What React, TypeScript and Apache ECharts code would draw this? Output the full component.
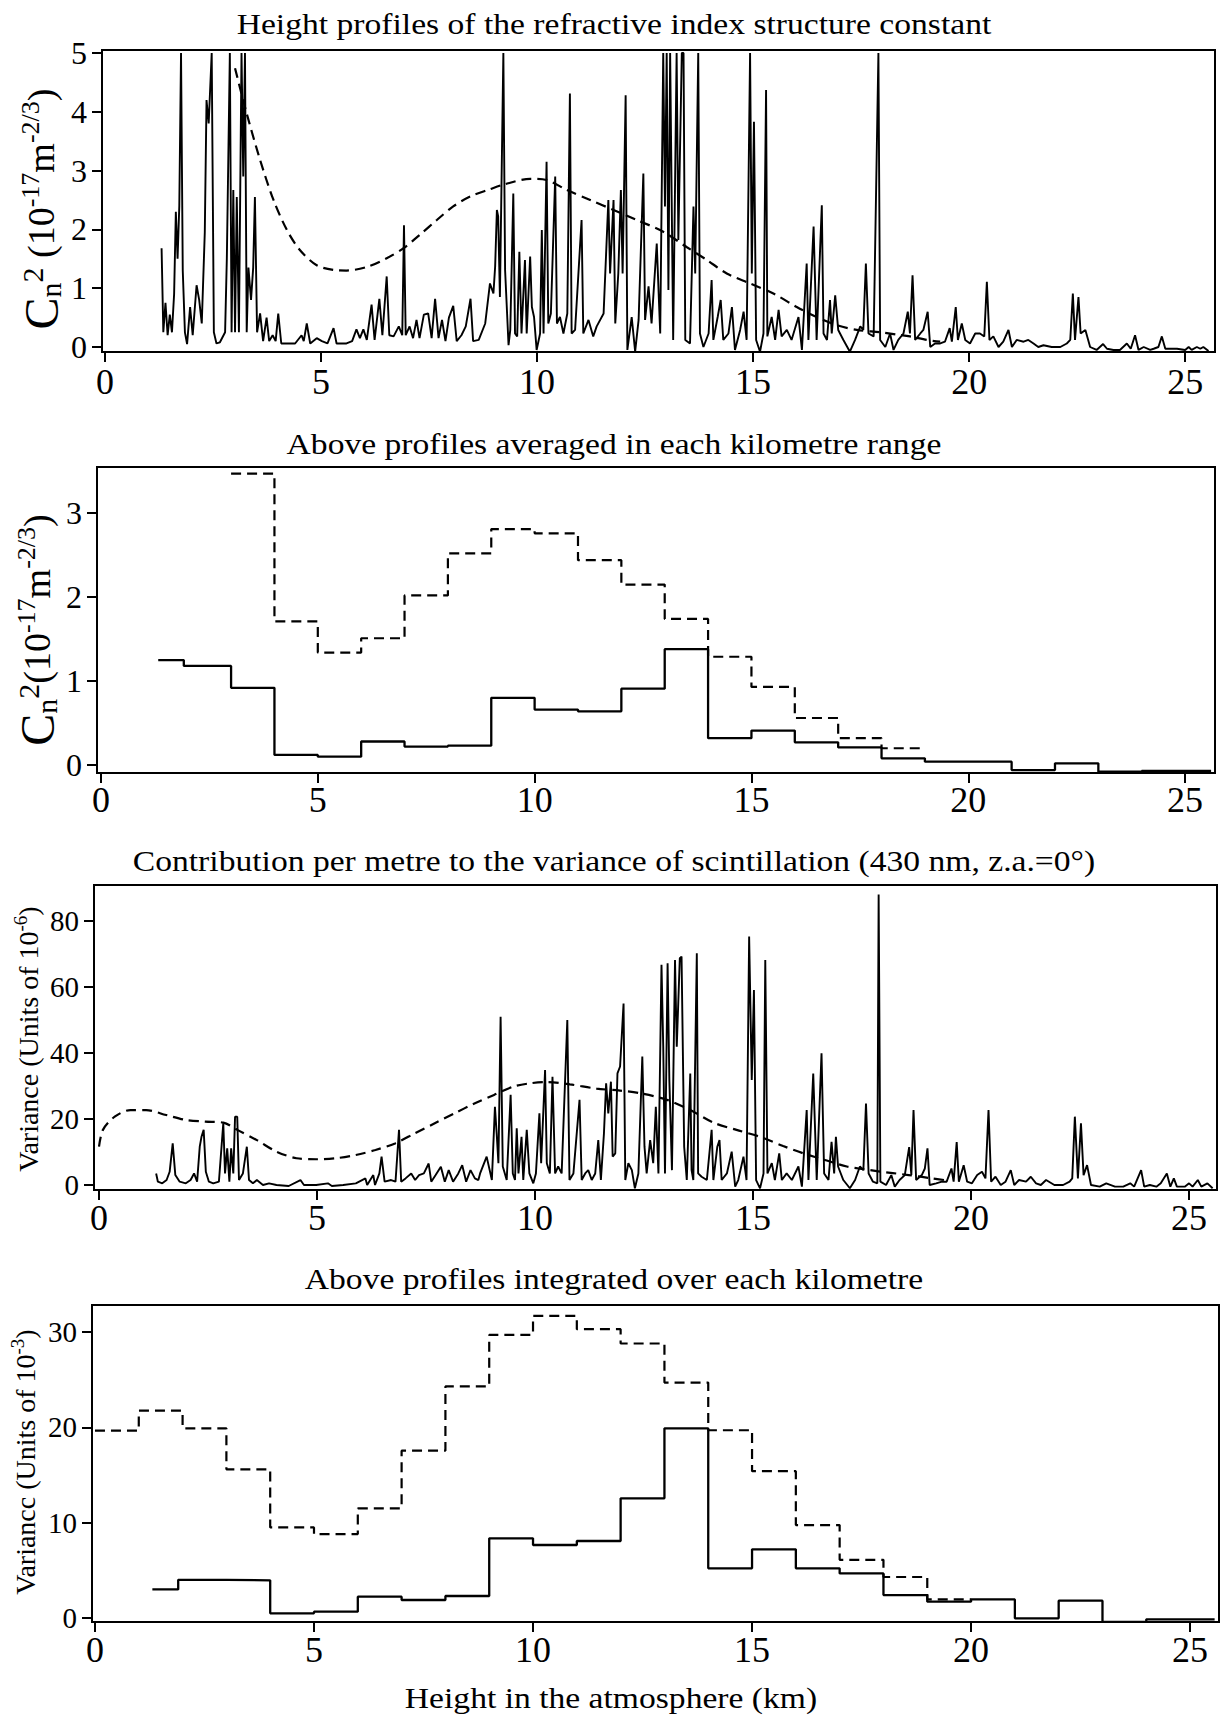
import React, { useEffect, useRef } from 'react';
import * as echarts from 'echarts';

const SERIF = 'Liberation Serif';

// ---------- tick values ----------
const xTicks = [0, 5, 10, 15, 20, 25];
const cn2Ticks = [0, 1, 2, 3, 4, 5];
const cn2AvgTicks = [0, 1, 2, 3];
const varMetreTicks = [0, 20, 40, 60, 80];
const varKmTicks = [0, 10, 20, 30];

// ---------- texts ----------
const titleTexts = [
  'Height profiles of the refractive index structure constant',
  'Above profiles averaged in each kilometre range',
  'Contribution per metre to the variance of scintillation (430 nm, z.a.=0\u00b0)',
  'Above profiles integrated over each kilometre',
];
const xAxisTitle = 'Height in the atmosphere (km)';

// ---------- panel 1: measured Cn2 profile (km, 1e-17 m^-2/3) ----------
const cn2Profile: [number, number][] = [
  [1.31,1.68],[1.35,0.25],[1.40,0.75],[1.45,0.2],[1.50,0.55],[1.55,0.25],[1.60,0.9],[1.64,2.3],[1.68,1.5],[1.72,2.4],[1.76,5],[1.80,1.3],[1.85,0.25],[1.90,0.05],[1.97,0.68],[2.03,0.2],[2.12,1.05],[2.18,0.8],[2.24,0.4],[2.31,1.95],[2.35,4.2],[2.40,3.8],[2.47,5],[2.52,0.25],[2.58,0.06],[2.66,0.08],[2.78,0.25],[2.82,1.5],[2.89,5],[2.93,0.25],[2.97,2.67],[3.01,0.25],[3.05,2.55],[3.10,0.25],[3.16,5],[3.20,2.9],[3.24,5],[3.28,0.25],[3.32,1.35],[3.38,0.8],[3.43,1.35],[3.47,2.55],[3.52,0.25],[3.59,0.57],[3.66,0.1],[3.74,0.5],[3.80,0.1],[3.88,0.2],[3.95,0.1],[4.01,0.57],[4.08,0.06],[4.20,0.06],[4.40,0.06],[4.55,0.2],[4.60,0.1],[4.67,0.4],[4.75,0.06],[4.90,0.15],[5.02,0.1],[5.15,0.06],[5.29,0.32],[5.36,0.06],[5.59,0.06],[5.72,0.1],[5.82,0.3],[5.90,0.15],[5.98,0.3],[6.06,0.12],[6.17,0.72],[6.24,0.12],[6.35,0.82],[6.42,0.2],[6.52,1.2],[6.58,0.2],[6.68,0.18],[6.80,0.35],[6.88,0.2],[6.92,2.07],[6.96,0.2],[7.05,0.35],[7.13,0.15],[7.21,0.46],[7.28,0.15],[7.38,0.55],[7.48,0.57],[7.56,0.15],[7.64,0.82],[7.72,0.15],[7.80,0.46],[7.88,0.1],[7.96,0.5],[8.06,0.7],[8.14,0.1],[8.25,0.2],[8.35,0.35],[8.46,0.82],[8.52,0.1],[8.65,0.12],
  [8.80,0.40],[8.91,1.08],[8.99,0.91],[9.03,1.37],[9.07,2.33],[9.10,2.22],[9.14,0.85],[9.22,5],[9.26,1.31],[9.34,0.03],[9.38,0.29],[9.45,2.61],[9.49,0.23],[9.54,0.18],[9.59,1.62],[9.64,0.23],[9.72,1.48],[9.76,0.23],[9.84,1.54],[9.88,0.68],[9.93,0.51],[9.99,-0.05],[10.07,0.23],[10.11,1.99],[10.15,0.23],[10.22,3.15],[10.26,0.40],[10.32,0.57],[10.42,2.90],[10.46,0.40],[10.53,0.51],[10.61,0.23],[10.70,0.57],[10.76,4.31],[10.80,0.23],[10.88,0.29],[11.03,2.16],[11.07,0.23],[11.19,0.46],[11.30,0.18],[11.38,0.35],[11.54,0.57],[11.65,2.50],[11.69,1.25],[11.77,2.50],[11.81,0.40],[11.88,1.25],[11.94,2.67],[11.98,1.25],[12.05,4.28],[12.09,-0.05],[12.19,0.51],[12.27,-0.08],[12.35,0.46],[12.46,2.95],[12.50,0.46],[12.58,1.03],[12.65,0.40],[12.77,1.76],[12.85,0.23],[12.92,5],[12.96,2.39],[13.00,5],[13.04,0.97],[13.08,5],[13.15,0.12],[13.23,5],[13.27,1.82],[13.35,5],[13.39,5],[13.43,0.12],[13.54,0.06],[13.62,2.39],[13.66,1.25],[13.73,5],[13.77,0.23],[13.85,0.0],[13.97,0.23],[14.04,1.14],[14.08,0.12],[14.18,0.51],[14.25,0.80],[14.31,0.12],[14.43,0.23],[14.51,0.68],[14.58,-0.05],[14.70,0.29],[14.78,0.60],[14.85,0.12],[14.93,5],[14.97,1.25],[15.02,3.83],[15.07,0.12],[15.16,-0.08],[15.24,0.23],[15.30,4.37],[15.33,0.18],[15.43,0.51],[15.51,0.12],[15.59,0.63],[15.66,0.18],[15.78,0.29],[15.89,0.12],[16.05,0.51],[16.13,-0.05],[16.24,1.42],[16.28,0.12],[16.40,2.05],[16.47,0.12],[16.59,2.41],[16.63,0.23],[16.71,0.12],[16.78,0.80],[16.82,0.23],[16.90,0.88],[16.97,0.29],[17.09,0.12],[17.24,-0.08],[17.36,0.12],[17.48,0.35],[17.55,0.29],[17.61,1.42],[17.67,0.23],
  [17.79,0.18],[17.90,5],[17.94,0.12],[18.06,0.0],[18.17,0.23],[18.25,-0.05],[18.36,0.12],[18.48,0.23],[18.58,0.6],[18.63,0.23],[18.69,1.22],[18.75,0.12],[18.87,0.23],[18.94,0.29],[19.04,0.6],[19.10,0.0],[19.21,0.06],[19.33,0.06],[19.44,0.09],[19.55,0.32],[19.60,0.09],[19.69,0.68],[19.74,0.12],[19.83,0.40],[19.91,0.12],[20.02,0.06],[20.14,0.23],[20.25,0.23],[20.35,0.18],[20.41,1.11],[20.47,0.12],[20.56,0.18],[20.68,0.0],[20.79,0.09],[20.91,0.29],[20.99,0.0],[21.10,0.12],[21.26,0.09],[21.37,0.12],[21.49,0.06],[21.60,0.0],[21.72,0.03],[21.91,0.0],[22.11,0.0],[22.26,0.06],[22.34,0.12],[22.40,0.91],[22.45,0.12],[22.53,0.85],[22.58,0.23],[22.69,0.29],[22.80,0.0],[22.95,-0.05],[23.10,0.05],[23.19,-0.03],[23.34,-0.05],[23.49,-0.05],[23.65,0.06],[23.74,-0.03],[23.84,0.2],[23.92,-0.05],[24.04,0.0],[24.19,-0.05],[24.27,-0.03],[24.38,0.0],[24.46,0.18],[24.54,-0.03],[24.65,-0.03],[24.81,-0.03],[25.00,-0.05],[25.08,0.0],[25.15,-0.05],[25.27,0.0],[25.35,-0.03],[25.42,0.0],[25.54,-0.07],
];

// panel 1: model Cn2 curve
const cn2Model: [number, number][] = [
  [3.01,4.74],[3.28,3.97],[3.59,3.18],[3.90,2.5],[4.21,1.99],[4.51,1.65],[4.90,1.39],[5.29,1.31],[5.59,1.30],[6.06,1.36],[6.52,1.51],[6.91,1.68],[7.29,1.91],[7.68,2.16],[8.06,2.39],[8.45,2.56],[8.90,2.68],[9.22,2.76],[9.84,2.86],[10.22,2.84],[10.69,2.67],[11.23,2.50],[11.77,2.33],[12.31,2.16],[12.92,1.96],[13.46,1.70],[13.93,1.48],[14.39,1.25],[14.93,1.08],[15.47,0.91],[16.01,0.68],[16.47,0.51],[16.94,0.37],[17.40,0.29],[17.94,0.25],[18.33,0.21],[18.63,0.18],[19.02,0.12],[19.33,0.09],
];

// ---------- panel 2: kilometre averages ----------
const avgEdgesMeasured = [1.32, 1.91, 3, 4, 5, 6, 7, 8, 9, 10, 11, 12, 13, 14, 15, 16, 17, 18, 19, 20, 21, 22, 23, 24, 25.6];
const avgMeasured = [1.25, 1.18, 0.92, 0.12, 0.10, 0.28, 0.22, 0.23, 0.80, 0.66, 0.64, 0.91, 1.38, 0.32, 0.41, 0.27, 0.21, 0.08, 0.04, 0.04, -0.06, 0.02, -0.08, -0.07];
const avgEdgesModel = [3, 4, 5, 6, 7, 8, 9, 10, 11, 12, 13, 14, 15, 16, 17, 18, 19];
const avgModel = [3.47, 1.71, 1.34, 1.51, 2.02, 2.52, 2.81, 2.76, 2.44, 2.15, 1.74, 1.29, 0.93, 0.56, 0.32, 0.20];

// ---------- panel 3: variance contribution per metre (1e-6) ----------
const scintProfile: [number, number][] = [
  [1.31,3.5],[1.35,1.0],[1.45,0.5],[1.55,1.5],[1.62,4.0],[1.69,12.6],[1.75,3.0],[1.85,1.0],[1.99,0.5],[2.1,1.5],[2.18,3.5],[2.25,1.0],[2.31,11.6],[2.35,14.6],[2.40,16.7],[2.45,4],[2.52,1.0],[2.62,0.5],[2.75,1.0],[2.85,18.7],[2.89,3.5],[2.94,11.1],[2.99,1.0],[3.03,11.1],[3.08,3.5],[3.12,20.7],[3.17,20.7],[3.21,1.5],[3.30,3.5],[3.39,11.6],[3.44,1.5],[3.53,0.5],[3.62,1.5],[3.76,0.0],[3.90,0.5],[4.07,0.0],[4.35,-0.3],[4.62,1.5],[4.70,0.0],[4.98,0.0],[5.25,0.5],[5.34,-0.3],[5.60,0.0],[5.89,0.5],[6.11,2.0],[6.15,0.0],[6.29,3.0],[6.33,0.0],[6.43,3.5],[6.48,8.6],[6.55,1.0],[6.70,1.5],[6.80,1.0],[6.88,16.7],[6.93,1.0],[7.03,2.0],[7.16,3.5],[7.25,1.5],[7.34,3.0],[7.45,3.5],[7.56,6.5],[7.62,1.0],[7.72,3.0],[7.84,5.5],[7.93,1.0],[8.02,4.5],[8.12,1.0],[8.24,3.5],[8.33,6.0],[8.42,1.0],[8.52,4.5],[8.62,2.0],[8.70,1.5],
  [8.74,3.5],[8.89,8.6],[9.01,1.5],[9.08,23.7],[9.12,15.6],[9.16,6.6],[9.21,51],[9.26,5.6],[9.35,1.5],[9.44,27.3],[9.49,3.5],[9.54,1.5],[9.58,17.2],[9.62,3.5],[9.69,14.6],[9.73,1.5],[9.81,16.7],[9.87,3.5],[9.96,0.5],[10.02,3.5],[10.10,21.7],[10.14,6.6],[10.23,34.8],[10.27,6.6],[10.34,3.5],[10.40,32.8],[10.46,3.5],[10.53,5.6],[10.61,3.5],[10.74,50],[10.79,1.5],[10.88,3.5],[11.02,25.8],[11.07,1.5],[11.15,3.5],[11.22,4.5],[11.30,1.5],[11.38,3.5],[11.45,13.6],[11.51,1.5],[11.58,15.6],[11.63,30.8],[11.68,21.7],[11.74,31.3],[11.78,8.6],[11.84,9.6],[11.89,33.8],[11.95,35.9],[12.03,55],[12.07,1.5],[12.14,6.6],[12.22,4.5],[12.29,-1],[12.37,3.5],[12.46,38.9],[12.51,11.6],[12.56,3.5],[12.64,13.6],[12.71,6.6],[12.77,23.7],[12.83,3.5],[12.90,66.7],[12.94,41.9],[12.98,3.5],[13.04,67.2],[13.08,31.8],[13.14,4.5],[13.21,68.2],[13.25,41.9],[13.32,68.7],[13.36,69.2],[13.42,11.6],[13.48,1.5],[13.56,33.8],[13.59,4.5],[13.63,1.5],[13.71,70.2],[13.74,3.5],[13.82,2.5],[13.94,1.5],[14.05,16.7],[14.09,1.5],[14.18,11.6],[14.23,13.6],[14.28,1.5],[14.40,3.5],[14.51,10.1],[14.59,-0.5],[14.66,1.5],[14.78,8.6],[14.85,1.5],[14.91,75.3],[14.97,31.8],[15.02,59.1],[15.07,1.5],[15.16,-1],[15.24,3.5],[15.28,68.2],[15.33,3.5],[15.43,6.6],[15.50,1.5],[15.60,9.6],[15.66,1.5],[15.77,3.5],[15.89,1.5],[16.04,5.6],[16.12,-0.5],[16.23,22.7],[16.27,1.5],[16.38,33.8],[16.46,1.5],[16.57,39.9],[16.63,3.5],[16.73,1.5],[16.80,13.1],[16.86,3.5],[16.90,14.6],[16.95,5.6],[17.07,1.5],[17.22,-1],[17.34,1.5],[17.45,5.6],[17.53,4.5],[17.59,24.7],[17.65,3.5],
  [17.75,1.0],[17.85,0.5],[17.88,88],[17.92,1.0],[18.05,0.0],[18.17,3.0],[18.25,-0.5],[18.36,1.5],[18.48,3.0],[18.58,11.5],[18.63,3.0],[18.68,22.7],[18.74,1.5],[18.87,3.0],[18.94,5.0],[19.00,11.1],[19.05,0.0],[19.2,0.5],[19.33,1.0],[19.44,1.0],[19.55,5.0],[19.60,1.0],[19.67,13],[19.72,1.0],[19.83,6.0],[19.91,1.0],[20.02,0.5],[20.14,3.0],[20.25,4.0],[20.33,2.0],[20.40,22.7],[20.46,1.0],[20.56,2.5],[20.68,0.0],[20.79,1.0],[20.91,4.5],[20.99,0.0],[21.10,1.5],[21.26,1.0],[21.37,2.5],[21.49,0.5],[21.60,0.0],[21.72,1.5],[21.91,0.0],[22.11,0.0],[22.26,1.0],[22.32,2.0],[22.38,20.7],[22.45,2.0],[22.52,18.7],[22.58,3.0],[22.66,6.0],[22.75,0.0],[22.95,-0.5],[23.10,0.5],[23.3,-0.5],[23.49,-0.5],[23.65,0.5],[23.74,-0.5],[23.90,4.5],[23.97,-0.5],[24.10,0.0],[24.25,-0.5],[24.35,0.5],[24.49,3.5],[24.57,-0.5],[24.65,2.0],[24.72,-0.5],[24.90,-0.5],[25.00,0.5],[25.08,-0.5],[25.20,1.5],[25.28,-0.5],[25.42,0.5],[25.54,-1.0],
];

const scintModel: [number, number][] = [
  [0.0,11.6],[0.09,16.7],[0.36,20.7],[0.72,22.7],[1.08,22.7],[1.54,21.2],[1.99,19.7],[2.44,19.2],[2.85,18.9],[3.17,16.7],[3.62,13.6],[4.07,10.1],[4.53,8.1],[4.98,7.8],[5.43,8.1],[5.89,9.1],[6.34,10.6],[6.79,12.6],[7.25,15.7],[7.70,18.7],[8.15,21.7],[8.61,24.7],[9.06,27.3],[9.50,29.8],[9.88,30.8],[10.27,31.2],[10.80,30.5],[11.41,29.2],[11.95,28.6],[12.41,27.8],[13.02,25.8],[13.56,22.7],[14.09,18.9],[14.62,16.7],[15.16,14.6],[15.69,11.8],[16.15,9.6],[16.69,7.4],[17.15,5.6],[17.53,4.8],[17.84,4.2],[18.57,3.0],[19.11,2.0],[19.38,1.5],
];

// ---------- panel 4: integrated over each kilometre (1e-3) ----------
const intEdgesMeasured = [1.31, 1.9, 3, 4, 5, 6, 7, 8, 9, 10, 11, 12, 13, 14, 15, 16, 17, 18, 19, 20, 21, 22, 23, 24, 25.56];
const intMeasured = [3.0, 4.0, 3.95, 0.49, 0.66, 2.24, 1.89, 2.31, 8.36, 7.66, 8.08, 12.56, 19.9, 5.21, 7.21, 5.21, 4.68, 2.41, 1.71, 1.95, -0.03, 1.82, -0.4, -0.14];
const intEdgesModel = [0, 1, 2, 3, 4, 5, 6, 7, 8, 9, 10, 11, 12, 13, 14, 15, 16, 17, 18, 19, 20];
const intModel = [19.65, 21.75, 19.9, 15.6, 9.5, 8.8, 11.5, 17.56, 24.3, 29.7, 31.7, 30.3, 28.8, 24.7, 19.7, 15.4, 9.75, 6.1, 4.3, 1.95];

function steps(edges: number[], values: number[]): [number, number][] {
  const pts: [number, number][] = [];
  values.forEach((v, i) => {
    pts.push([edges[i], v], [edges[i + 1], v]);
  });
  return pts;
}

// ---------- layout ----------
const grids = [
  { left: 102, top: 50, width: 1113, height: 302 },
  { left: 97, top: 467, width: 1118, height: 306 },
  { left: 94, top: 885, width: 1123, height: 305 },
  { left: 92, top: 1305, width: 1127, height: 317 },
];
const xRanges = [
  [-0.069, 25.69],
  [-0.092, 25.69],
  [-0.115, 25.64],
  [-0.068, 25.66],
];
const yRanges = [
  [-0.085, 5.05],
  [-0.095, 3.55],
  [-1.52, 90.9],
  [-0.42, 32.84],
];
const yTickSets = [cn2Ticks, cn2AvgTicks, varMetreTicks, varKmTicks];
const yLabelSize = [32, 32, 29, 29];
const xLabelMargin = [12, 9, 10, 10];

const solid = { color: '#000', width: 1.9, type: 'solid' as const };
const dashed = { color: '#000', width: 2.2, type: [10, 6] as number[] };

function lineSeries(idx: number, data: [number, number][], style: any, smooth: number | boolean = false) {
  return {
    type: 'line',
    xAxisIndex: idx,
    yAxisIndex: idx,
    data,
    showSymbol: false,
    symbol: 'none',
    smooth,
    silent: true,
    lineStyle: style,
    z: 3,
  };
}

function richName(big: boolean) {
  return {
    big: { fontFamily: SERIF, fontSize: 48, fill: '#000', color: '#000', lineHeight: 48 },
    sub: { fontFamily: SERIF, fontSize: 30, fill: '#000', color: '#000', lineHeight: 30, verticalAlign: 'bottom' },
    sup: { fontFamily: SERIF, fontSize: 30, fill: '#000', color: '#000', lineHeight: 30, verticalAlign: 'top' },
    n: { fontFamily: SERIF, fontSize: big ? 38 : 28, fill: '#000', color: '#000', lineHeight: big ? 48 : 34 },
    s: { fontFamily: SERIF, fontSize: big ? 26 : 19, fill: '#000', color: '#000', lineHeight: big ? 26 : 19, verticalAlign: 'top' },
  };
}

function textEl(text: string, x: number, y: number, fontSize: number, extra: any = {}) {
  return {
    type: 'text',
    x,
    y,
    silent: true,
    ...extra,
    style: {
      text,
      fontFamily: SERIF,
      fontSize,
      fill: '#000',
      align: 'center',
      verticalAlign: 'middle',
      ...(extra.style || {}),
    },
  };
}

function buildOption() {
  const xAxis = grids.map((_, i) => ({
    type: 'value',
    gridIndex: i,
    min: xRanges[i][0],
    max: xRanges[i][1],
    axisLine: { show: true, onZero: false, lineStyle: { color: '#000', width: 2 } },
    axisTick: { show: true, length: 10, customValues: xTicks, lineStyle: { color: '#000', width: 2 } },
    axisLabel: { show: true, customValues: xTicks, fontFamily: SERIF, fontSize: 36, color: '#000', margin: xLabelMargin[i] },
    splitLine: { show: false },
  }));
  const yAxis = grids.map((_, i) => ({
    type: 'value',
    gridIndex: i,
    min: yRanges[i][0],
    max: yRanges[i][1],
    axisLine: { show: true, onZero: false, lineStyle: { color: '#000', width: 2 } },
    axisTick: { show: true, length: 10, customValues: yTickSets[i], lineStyle: { color: '#000', width: 2 } },
    axisLabel: { show: true, customValues: yTickSets[i], fontFamily: SERIF, fontSize: yLabelSize[i], color: '#000', margin: 15 },
    splitLine: { show: false },
  }));

  const series = [
    lineSeries(0, cn2Profile, solid),
    lineSeries(0, cn2Model, dashed, 0.3),
    lineSeries(1, steps(avgEdgesMeasured, avgMeasured), { ...solid, width: 2.3 }),
    lineSeries(1, steps(avgEdgesModel, avgModel), dashed),
    lineSeries(2, scintProfile, solid),
    lineSeries(2, scintModel, dashed, 0.3),
    lineSeries(3, steps(intEdgesMeasured, intMeasured), { ...solid, width: 2.3 }),
    lineSeries(3, steps(intEdgesModel, intModel), dashed),
  ];

  const titleY = [24, 444, 861, 1279];
  const graphic: any[] = titleTexts.map((t, i) =>
    textEl(t, 614, titleY[i], 30, { scaleX: 1.12 })
  );
  graphic.push(textEl(xAxisTitle, 611, 1698, 30, { scaleX: 1.12 }));

  const yNames = [
    { text: '{big|C}{sub|n}{sup|2}{n| (10}{s|-17}{n|m}{s|-2/3}{n|)}', x: 41, y: 209, big: true },
    { text: '{big|C}{sub|n}{sup|2}{n|(10}{s|-17}{n|m}{s|-2/3}{n|)}', x: 37, y: 630, big: true },
    { text: '{n|Variance (Units of 10}{s|-6}{n|)}', x: 28, y: 1039, big: false },
    { text: '{n|Variancc (Units of 10}{s|-3}{n|)}', x: 25, y: 1462, big: false },
  ];
  yNames.forEach((nm) => {
    graphic.push({
      type: 'text',
      x: nm.x,
      y: nm.y,
      rotation: Math.PI / 2,
      silent: true,
      style: {
        text: nm.text,
        rich: richName(nm.big),
        fontFamily: SERIF,
        fontSize: nm.big ? 38 : 28,
        fill: '#000',
        align: 'center',
        verticalAlign: 'middle',
      },
    });
  });

  return {
    animation: false,
    backgroundColor: '#fff',
    grid: grids.map((g) => ({ ...g, show: true, borderColor: '#000', borderWidth: 2, containLabel: false })),
    xAxis,
    yAxis,
    series,
    graphic,
  };
}

export default function App() {
  const ref = useRef<HTMLDivElement>(null);
  useEffect(() => {
    if (!ref.current) return;
    const chart = echarts.init(ref.current, undefined, { renderer: 'svg' });
    chart.setOption(buildOption() as any);
    return () => {
      chart.dispose();
    };
  }, []);
  return (
    <div
      ref={ref}
      style={{ position: 'absolute', left: 0, top: 0, width: 1220, height: 1720, background: '#fff' }}
    />
  );
}
